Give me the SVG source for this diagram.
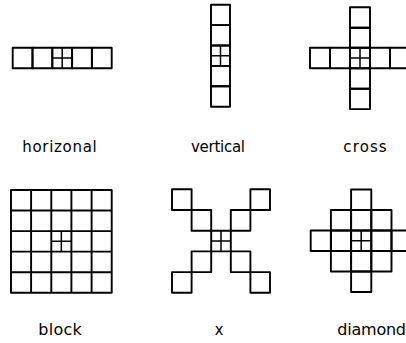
<svg xmlns="http://www.w3.org/2000/svg" width="406" height="343" viewBox="0 0 406 343">
<style>
.c{fill:none;stroke:#000;stroke-width:1.9;stroke-linejoin:round}
.m{fill:none;stroke:#000;stroke-width:1.5}
.t{font-family:"DejaVu Sans","Liberation Sans",sans-serif;fill:#000}
.s{font-size:15px}
.b{font-size:16px}
</style>
<rect width="406" height="343" fill="#fff"/>
<g id="horizontal">
<rect class="c" x="12.7" y="47.7" width="19.8" height="20.6"/>
<rect class="c" x="32.5" y="47.7" width="19.8" height="20.6"/>
<rect class="c" x="52.3" y="47.7" width="19.8" height="20.6"/>
<rect class="c" x="72.1" y="47.7" width="19.8" height="20.6"/>
<rect class="c" x="91.9" y="47.7" width="19.8" height="20.6"/>
<path class="m" d="M62.2 47.7V68.3M52.3 58H72.1"/>
<text class="t s" x="22.3" y="152" textLength="74.4" lengthAdjust="spacing">horizonal</text>
</g>
<g id="vertical">
<rect class="c" x="211" y="4.7" width="19" height="20.4"/>
<rect class="c" x="211" y="25.1" width="19" height="20.4"/>
<rect class="c" x="211" y="45.5" width="19" height="20.4"/>
<rect class="c" x="211" y="65.9" width="19" height="20.4"/>
<rect class="c" x="211" y="86.3" width="19" height="20.4"/>
<path class="m" d="M220.5 45.5V65.9M211 55.7H230"/>
<text class="t s" x="191" y="152" textLength="54" lengthAdjust="spacing">vertical</text>
</g>
<g id="cross">
<rect class="c" x="310" y="47.7" width="20" height="20.6"/>
<rect class="c" x="330" y="47.7" width="20" height="20.6"/>
<rect class="c" x="350" y="47.7" width="20" height="20.6"/>
<rect class="c" x="370" y="47.7" width="20" height="20.6"/>
<rect class="c" x="390" y="47.7" width="20" height="20.6"/>
<rect class="c" x="350" y="7.3" width="20" height="20.4"/>
<rect class="c" x="350" y="27.7" width="20" height="20"/>
<rect class="c" x="350" y="68.3" width="20" height="20.4"/>
<rect class="c" x="350" y="88.7" width="20" height="20.4"/>
<path class="m" d="M360 47.7V68.3M350 58H370"/>
<text class="t s" x="343.3" y="152" textLength="43.4" lengthAdjust="spacing">cross</text>
</g>
<g id="block">
<path class="c" d="M11 190H111.7V292.7H11Z"/>
<path class="c" d="M31.1 190V292.7M51.3 190V292.7M71.4 190V292.7M91.6 190V292.7M11 210.5H111.7M11 231.1H111.7M11 251.6H111.7M11 272.2H111.7"/>
<path class="m" d="M61.35 231.1V251.6M51.3 241.35H71.4"/>
<text class="t b" x="38.3" y="335" textLength="43.4" lengthAdjust="spacing">block</text>
</g>
<g id="x">
<rect class="c" x="172" y="189.3" width="19.6" height="20.7"/>
<rect class="c" x="191.6" y="210" width="19.6" height="20.7"/>
<rect class="c" x="211.2" y="230.7" width="19.6" height="20.7"/>
<rect class="c" x="230.8" y="210" width="19.6" height="20.7"/>
<rect class="c" x="250.4" y="189.3" width="19.6" height="20.7"/>
<rect class="c" x="191.6" y="251.4" width="19.6" height="20.7"/>
<rect class="c" x="172" y="272.1" width="19.6" height="20.7"/>
<rect class="c" x="230.8" y="251.4" width="19.6" height="20.7"/>
<rect class="c" x="250.4" y="272.1" width="19.6" height="20.7"/>
<path class="m" d="M221 230.7V251.4M211.2 241.05H230.8"/>
<text class="t b" x="214.8" y="335" textLength="8.6" lengthAdjust="spacingAndGlyphs">x</text>
</g>
<g id="diamond">
<rect class="c" x="351.1" y="189.5" width="20.2" height="20.5"/>
<rect class="c" x="330.9" y="210" width="20.2" height="20.5"/>
<rect class="c" x="351.1" y="210" width="20.2" height="20.5"/>
<rect class="c" x="371.3" y="210" width="20.2" height="20.5"/>
<rect class="c" x="310.7" y="230.5" width="20.2" height="20.5"/>
<rect class="c" x="330.9" y="230.5" width="20.2" height="20.5"/>
<rect class="c" x="351.1" y="230.5" width="20.2" height="20.5"/>
<rect class="c" x="371.3" y="230.5" width="20.2" height="20.5"/>
<rect class="c" x="391.5" y="230.5" width="20.2" height="20.5"/>
<rect class="c" x="330.9" y="251" width="20.2" height="20.5"/>
<rect class="c" x="351.1" y="251" width="20.2" height="20.5"/>
<rect class="c" x="371.3" y="251" width="20.2" height="20.5"/>
<rect class="c" x="351.1" y="271.5" width="20.2" height="20.5"/>
<path class="m" d="M361.2 230.5V251M351.1 240.75H371.3"/>
<text class="t b" x="337.3" y="335" textLength="68.7" lengthAdjust="spacing">diamond</text>
</g>
<g id="connectors"/>
</svg>
